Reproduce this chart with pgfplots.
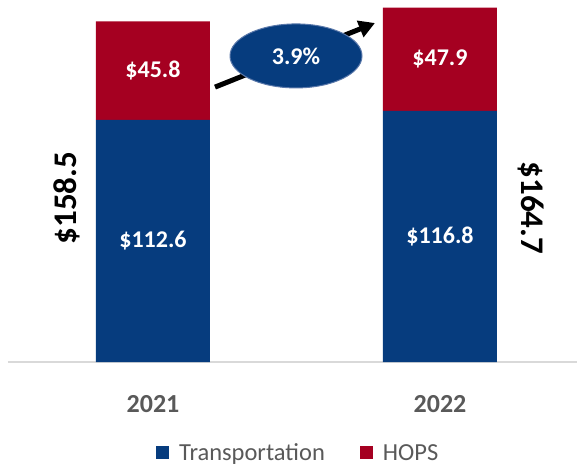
\documentclass[border=0pt]{standalone}
\usepackage{fontspec}
\setmainfont{Carlito}
\usepackage{pgfplots}
\pgfplotsset{compat=1.18}
\usetikzlibrary{arrows.meta}
\definecolor{tblue}{RGB}{6,60,126}
\definecolor{hred}{RGB}{165,0,33}
\definecolor{txtgray}{RGB}{89,89,89}
\definecolor{axgray}{RGB}{217,217,217}
\definecolor{ellborder}{RGB}{90,120,170}
\newcommand{\fs}[1]{\fontsize{#1}{#1}\selectfont}
\begin{document}
\begin{tikzpicture}
\useasboundingbox (-8pt,-105pt) rectangle (569pt,362pt);
\begin{axis}[
  at={(0pt,0pt)}, anchor=south west,
  scale only axis,
  width=569pt, height=362pt,
  xmin=-0.5052, xmax=1.4774,
  ymin=0, ymax=168.3,
  clip=false,
  ybar stacked,
  bar width=114pt,
  axis y line=none,
  axis x line*=bottom,
  x axis line style={draw=axgray, line width=1.2pt, -},
  xtick={0,1},
  xticklabels={2021,2022},
  major tick length=0pt,
  xticklabel style={font=\fs{26}\bfseries, text=txtgray, anchor=north, inner sep=0pt, yshift=-33pt},
  legend columns=2,
  legend style={draw=none, fill=none, at={(0.51,-0.251)}, anchor=center,
    font=\fs{24.5}, text=txtgray, column sep=8pt,
    /tikz/every even column/.append style={column sep=33pt}},
  legend image code/.code={\fill[#1] (0pt,-6pt) rectangle (13pt,7pt);},
]
\addplot[fill=tblue, draw=none] coordinates {(0,112.6) (1,116.8)};
\addlegendentry{Transportation}
\addplot[fill=hred, draw=none] coordinates {(0,45.8) (1,47.9)};
\addlegendentry{HOPS}

\coordinate (b1) at (axis cs:0,56.3);
\coordinate (r1) at (axis cs:0,135.5);
\coordinate (b2) at (axis cs:1,58.4);
\coordinate (r2) at (axis cs:1,140.75);
\coordinate (t1) at (axis cs:-0.30,76.2);
\coordinate (t2) at (axis cs:1.317,71.6);
\coordinate (a1) at (axis cs:0.2161,127.8);
\coordinate (a2) at (axis cs:0.7735,157.6);
\coordinate (ec) at (axis cs:0.4983,142.3);
\end{axis}

% value labels
\node[text=white, font=\fs{24}\bfseries] at (b1) {\$112.6};
\node[text=white, font=\fs{24}\bfseries] at (r1) {\$45.8};
\node[text=white, font=\fs{24}\bfseries] at (b2) {\$116.8};
\node[text=white, font=\fs{24}\bfseries] at (r2) {\$47.9};

% totals
\node[rotate=90, font=\fs{33}\bfseries] at (t1) {\$158.5};
\node[rotate=-90, font=\fs{33}\bfseries] at (t2) {\$164.7};

% growth arrow and ellipse
\draw[line width=5pt, -{Triangle[length=16pt,width=17pt]}] (a1) -- (a2);
\draw[fill=tblue, draw=ellborder, line width=1pt] (ec) ellipse [x radius=66pt, y radius=32pt];
\node[text=white, font=\fs{24}\bfseries] at (ec) {3.9\%};
\end{tikzpicture}
\end{document}
